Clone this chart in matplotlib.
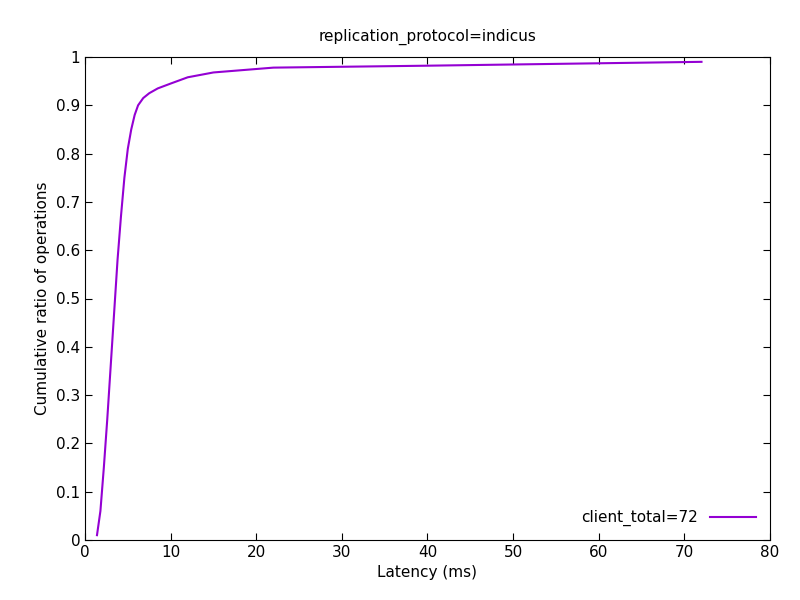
import matplotlib
matplotlib.use("Agg")
import matplotlib.pyplot as plt

latency_ms = [1.4, 1.8, 2.2, 2.6, 3.0, 3.4, 3.8, 4.2, 4.6, 5.0, 5.4, 5.8, 6.2,
              6.8, 7.5, 8.5, 10, 12, 15, 22, 40, 72]
cum_ratio = [0.01, 0.06, 0.15, 0.25, 0.36, 0.47, 0.58, 0.67, 0.75, 0.81, 0.85,
             0.88, 0.90, 0.915, 0.925, 0.935, 0.945, 0.958, 0.968, 0.978,
             0.982, 0.99]

fig = plt.figure(figsize=(8, 6), dpi=100)
ax = fig.add_axes([85 / 800, 60 / 600, 685 / 800, 483 / 600])

ax.plot(latency_ms, cum_ratio, color="#9400d3", lw=1.5, label="client_total=72")
ax.set_xlim(0, 80)
ax.set_ylim(0, 1)
ax.set_xticks(range(0, 81, 10))
ax.set_yticks([i / 10 for i in range(11)])
ax.set_yticklabels(["0"] + [f"{i/10:g}" for i in range(1, 10)] + ["1"])
ax.tick_params(direction="in", top=True, right=True, labelsize=11, length=5)
ax.set_xlabel("Latency (ms)", fontsize=11)
ax.set_ylabel("Cumulative ratio of operations", fontsize=11)
ax.set_title("replication_protocol=indicus", fontsize=11, pad=12)
ax.legend(loc="lower right", frameon=False, markerfirst=False, fontsize=11,
          handlelength=3)

fig.savefig("out.png")
